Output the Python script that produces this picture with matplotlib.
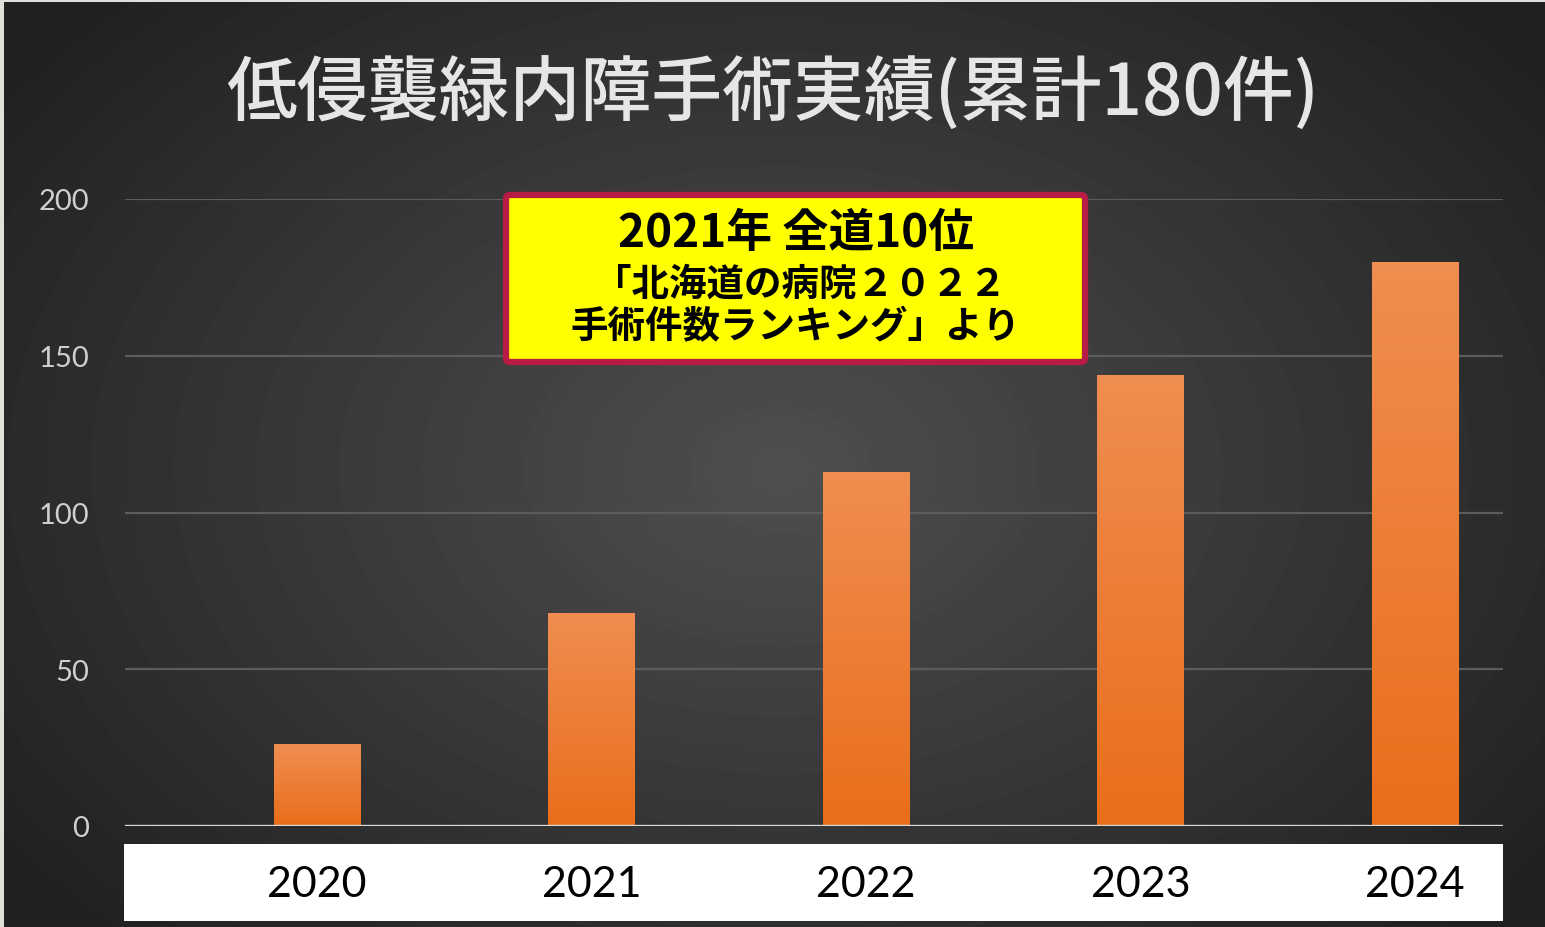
import numpy as np
import matplotlib.pyplot as plt
from matplotlib.patches import Rectangle, FancyBboxPatch
from matplotlib.colors import LinearSegmentedColormap

plt.rcParams['font.family'] = ['Noto Sans CJK JP', 'DejaVu Sans']

# data
years = ['2020', '2021', '2022', '2023', '2024']
cases = [26, 68, 113, 144, 180]
yticks = [0, 50, 100, 150, 200]
title = '低侵襲緑内障手術実績(累計180件)'
note_head = '2021年 全道10位'
note_body = ['「北海道の病院２０２２', '手術件数ランキング」より']

W, H = 1545, 928
fig = plt.figure(figsize=(W / 100, H / 100), dpi=100)


def fx(px):
    return px / W


def fy(py):
    return 1 - py / H


# background: dark radial gradient
bg = fig.add_axes([0, 0, 1, 1], zorder=0)
bg.set_axis_off()
yy, xx = np.mgrid[0:H, 0:W]
r = np.sqrt(((xx - 780) / 900.0) ** 2 + ((yy - 470) / 620.0) ** 2)
shade = np.clip(0.31 - 0.17 * r, 0.13, 0.31)
bg.imshow(shade, cmap='gray', vmin=0, vmax=1, extent=[0, W, H, 0], aspect='auto')
bg.set_xlim(0, W)
bg.set_ylim(H, 0)
# light frame strips at top and left
bg.add_patch(Rectangle((0, 0), W, 3, color='#e2e0da', lw=0))
bg.add_patch(Rectangle((0, 0), 4, H, color='#e2e0da', lw=0))
# white strip behind the year labels
bg.add_patch(Rectangle((124, 845), 1379, 77, color='white', lw=0))

# title
bg.text(773, 95, title, color='#e6e6e6', fontsize=51, fontweight='medium',
        ha='center', va='center')

# main chart
ax = fig.add_axes([fx(125), fy(827), fx(1503) - fx(125), fy(200) - fy(827)], zorder=1)
ax.patch.set_alpha(0)
x = np.arange(len(years))
bars = ax.bar(x, cases, width=0.315, color='#ee7b2c', zorder=3)

grad = LinearSegmentedColormap.from_list('bar', ['#e96e1b', '#f08d50'])
for b in bars:
    img = ax.imshow(np.linspace(0, 1, 100).reshape(-1, 1), cmap=grad,
                    extent=[b.get_x(), b.get_x() + b.get_width(), 0, b.get_height()],
                    origin='lower', aspect='auto', zorder=3)
    img.set_clip_path(b)

ax.set_xlim(-0.70, 4.32)
ax.set_ylim(0, 200)
ax.set_yticks(yticks)
ax.set_yticklabels([str(v) for v in yticks], color='#cfcfcf', fontsize=21,
                   family=['Lato', 'DejaVu Sans'])
ax.tick_params(axis='y', length=0, pad=26)
ax.set_xticks(x)
ax.set_xticklabels(years, fontsize=31, color='black', family=['Lato', 'DejaVu Sans'])
ax.tick_params(axis='x', length=0, pad=28)
for v in yticks[1:]:
    ax.axhline(v, color='#5c5c5c', lw=1.6, zorder=1)
ax.axhline(0, color='#d9d9d9', lw=2.4, zorder=4)
for s in ax.spines.values():
    s.set_visible(False)

# yellow note box on an overlay above the chart
top = fig.add_axes([0, 0, 1, 1], zorder=2)
top.set_axis_off()
top.patch.set_alpha(0)
top.set_xlim(0, W)
top.set_ylim(H, 0)
top.add_patch(FancyBboxPatch((506, 196), 579, 167,
                             boxstyle='round,pad=0,rounding_size=4',
                             facecolor='#ffff00', edgecolor='#b81c44', lw=4.5))
top.text(796, 234, note_head, fontsize=33, fontweight='bold', color='black',
         ha='center', va='center')
top.text(800, 284, note_body[0], fontsize=27, fontweight='bold', color='black',
         ha='center', va='center')
top.text(795, 327, note_body[1], fontsize=27, fontweight='bold', color='black',
         ha='center', va='center')

fig.savefig('out.png', dpi=100)
